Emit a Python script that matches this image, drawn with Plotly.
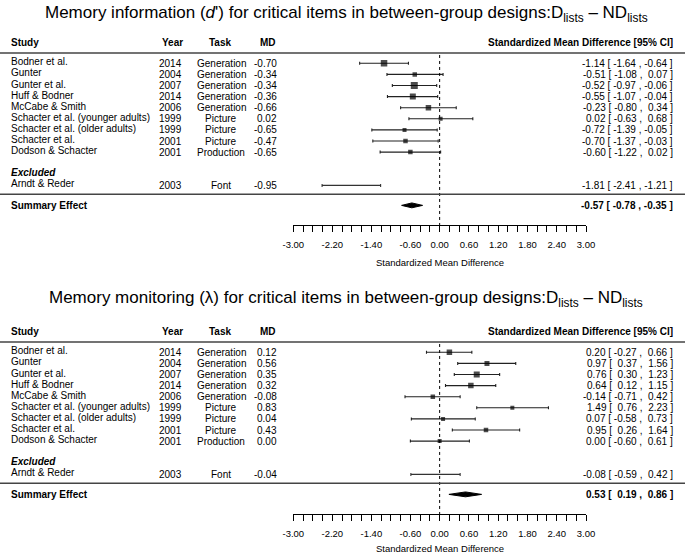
import plotly.graph_objects as go

W, H = 685, 556

# ---------------- data ----------------
studies = ["Bodner et al.", "Gunter", "Gunter et al.", "Huff & Bodner", "McCabe & Smith",
           "Schacter et al. (younger adults)", "Schacter et al. (older adults)",
           "Schacter et al.", "Dodson & Schacter"]
years = ["2014", "2004", "2007", "2014", "2006", "1999", "1999", "2001", "2001"]
tasks = ["Generation", "Generation", "Generation", "Generation", "Generation",
         "Picture", "Picture", "Picture", "Production"]
excl_study = "Arndt & Reder"
excl_year = "2003"
excl_task = "Font"

# Panel 1: memory information (d')
info_md = [-0.70, -0.34, -0.34, -0.36, -0.66, 0.02, -0.65, -0.47, -0.65]
info_smd = [-1.14, -0.51, -0.52, -0.55, -0.23, 0.02, -0.72, -0.70, -0.60]
info_lo = [-1.64, -1.08, -0.97, -1.07, -0.80, -0.63, -1.39, -1.37, -1.22]
info_hi = [-0.64, 0.07, -0.06, -0.04, 0.34, 0.68, -0.05, -0.03, 0.02]
info_excl_md, info_excl_smd, info_excl_lo, info_excl_hi = -0.95, -1.81, -2.41, -1.21
info_sum_est, info_sum_lo, info_sum_hi = -0.57, -0.78, -0.35

# Panel 2: memory monitoring (lambda)
mon_md = [0.12, 0.56, 0.35, 0.32, -0.08, 0.83, 0.04, 0.43, 0.00]
mon_smd = [0.20, 0.97, 0.76, 0.64, -0.14, 1.49, 0.07, 0.95, 0.00]
mon_lo = [-0.27, 0.37, 0.30, 0.12, -0.71, 0.76, -0.58, 0.26, -0.60]
mon_hi = [0.66, 1.56, 1.23, 1.15, 0.42, 2.23, 0.73, 1.64, 0.61]
mon_excl_md, mon_excl_smd, mon_excl_lo, mon_excl_hi = -0.04, -0.08, -0.59, 0.42
mon_sum_est, mon_sum_lo, mon_sum_hi = 0.53, 0.19, 0.86

tick_labels = ["-3.00", "-2.20", "-1.40", "-0.60", "0.00", "0.60", "1.20", "1.80", "2.40", "3.00"]
label_vals = [-3.0, -2.2, -1.4, -0.6, 0.0, 0.6, 1.2, 1.8, 2.4, 3.0]

# ---------------- styles ----------------
info_marker_px = [6.5, 4.5, 7.0, 6.0, 5.5, 4.0, 4.0, 4.5, 4.5]
mon_marker_px = [5.5, 5.0, 6.0, 5.5, 4.5, 4.0, 4.0, 4.5, 4.0]
FONT = "Liberation Sans, Arial, Helvetica, sans-serif"
BODY = 10
ROW_PX = 11.1

titles = [
    "Memory information (<i>d</i>') for critical items in between-group designs:D<sub>lists</sub> \u2013 ND<sub>lists</sub>",
    "Memory monitoring (\u03bb) for critical items in between-group designs:D<sub>lists</sub> \u2013 ND<sub>lists</sub>",
]

panels = [
    dict(md=info_md, smd=info_smd, lo=info_lo, hi=info_hi,
         emd=info_excl_md, esmd=info_excl_smd, elo=info_excl_lo, ehi=info_excl_hi,
         s=(info_sum_est, info_sum_lo, info_sum_hi), mpx=info_marker_px,
         top=52.2, title_y=14, title_x=43, axtitle_y=263),
    dict(md=mon_md, smd=mon_smd, lo=mon_lo, hi=mon_hi,
         emd=mon_excl_md, esmd=mon_excl_smd, elo=mon_excl_lo, ehi=mon_excl_hi,
         s=(mon_sum_est, mon_sum_lo, mon_sum_hi), mpx=mon_marker_px,
         top=341.2, title_y=299, title_x=47, axtitle_y=548),
]

X_LEFT_PX, X_RIGHT_PX = 293.3, 586.0
N_ROWS_RANGE = 15.57  # rows from header line to axis line
ROWS_ABOVE = 2.0      # extra rows above the header line (for header text)


def fx(px):
    return px / W


def fy(py):
    return 1 - py / H


def fmt_ci(e, l, h):
    return f"{e:.2f} [{l:6.2f} , {h:5.2f} ]"


fig = go.Figure()
annotations = []
shapes = []

tickvals = [round(-3 + 0.2 * i, 2) for i in range(31)]
ticktext = []
for v in tickvals:
    hit = [t for lv, t in zip(label_vals, tick_labels) if abs(lv - v) < 1e-9]
    ticktext.append(hit[0] if hit else "")

for k, p in enumerate(panels):
    xa = "x" if k == 0 else "x2"
    ya = "y" if k == 0 else "y2"
    top = p["top"]
    bottom = top + N_ROWS_RANGE * ROW_PX
    dom_top = top - ROWS_ABOVE * ROW_PX
    n = len(studies)
    rows = [i + 1 for i in range(n)]
    excl_label_row = n + 2
    excl_row = n + 3
    sep_row = n + 3.8
    sum_row = n + 4.8

    axis_cfg = dict(domain=[fx(X_LEFT_PX), fx(X_RIGHT_PX)], range=[-3, 3],
                    showline=True, linecolor="black", linewidth=1,
                    ticks="outside", ticklen=6, tickwidth=1, tickcolor="black",
                    tickvals=tickvals, ticktext=ticktext, ticklabelstandoff=5,
                    tickfont=dict(family=FONT, size=9.5, color="black"),
                    showgrid=False, zeroline=False, fixedrange=True, anchor=ya,
                    automargin=False)
    yaxis_cfg = dict(domain=[fy(bottom), fy(dom_top)], range=[N_ROWS_RANGE, -ROWS_ABOVE],
                     visible=False, fixedrange=True, anchor=xa, automargin=False)
    if k == 0:
        fig.update_layout(xaxis=axis_cfg, yaxis=yaxis_cfg)
    else:
        fig.update_layout(xaxis2=axis_cfg, yaxis2=yaxis_cfg)

    # study CIs and squares
    fig.add_trace(go.Scatter(
        x=p["smd"], y=rows, mode="markers", xaxis=xa, yaxis=ya,
        marker=dict(symbol="square", size=p["mpx"], color="black", line=dict(width=0)),
        error_x=dict(type="data", symmetric=False,
                     array=[h - e for h, e in zip(p["hi"], p["smd"])],
                     arrayminus=[e - l for e, l in zip(p["smd"], p["lo"])],
                     color="#222", thickness=1.1, width=1.5),
        showlegend=False, hoverinfo="skip"))
    # excluded study (no square)
    fig.add_trace(go.Scatter(
        x=[p["esmd"]], y=[excl_row], mode="markers", xaxis=xa, yaxis=ya,
        marker=dict(symbol="square", size=1, color="rgba(0,0,0,0)", line=dict(width=0)),
        error_x=dict(type="data", symmetric=False,
                     array=[p["ehi"] - p["esmd"]], arrayminus=[p["esmd"] - p["elo"]],
                     color="#333", thickness=1.1, width=1.5),
        showlegend=False, hoverinfo="skip"))
    # summary diamond
    e, l, h = p["s"]
    dh = 0.22
    fig.add_trace(go.Scatter(
        x=[l, e, h, e, l], y=[sum_row, sum_row - dh, sum_row, sum_row + dh, sum_row],
        mode="lines", fill="toself", fillcolor="black", line=dict(color="black", width=1),
        xaxis=xa, yaxis=ya, showlegend=False, hoverinfo="skip"))

    # zero dotted line
    shapes.append(dict(type="line", xref=xa, yref=ya, x0=0, x1=0, y0=0.25, y1=N_ROWS_RANGE,
                       line=dict(color="black", width=1, dash="dot")))
    # header line and separator
    for yy in (0.08, sep_row):
        shapes.append(dict(type="line", xref="paper", yref=ya, x0=0, x1=1, y0=yy, y1=yy,
                           line=dict(color="#444", width=1.5)))

    def txt(x_px, row, text, anchor, bold=False, italic=False, size=BODY, yshift=0):
        t = text
        if bold:
            t = f"<b>{t}</b>"
        if italic:
            t = f"<i>{t}</i>"
        annotations.append(dict(x=fx(x_px), xref="paper", y=row, yref=ya, text=t,
                                xanchor=anchor, yanchor="middle", showarrow=False,
                                yshift=yshift,
                                font=dict(family=FONT, size=size, color="black")))

    hdr = -0.86
    txt(9, hdr, "Study", "left", bold=True)
    txt(172, hdr, "Year", "center", bold=True)
    txt(220, hdr, "Task", "center", bold=True)
    txt(258, hdr, "MD", "left", bold=True)
    txt(675, hdr, "Standardized Mean Difference [95% CI]", "right", bold=True)

    for i in range(n):
        r = rows[i]
        txt(9, r, studies[i], "left", yshift=1.5)
        txt(170, r, years[i], "center")
        txt(221, r, tasks[i], "center")
        txt(279, r, f"{p['md'][i]:.2f}", "right")
        txt(675, r, fmt_ci(p["smd"][i], p["lo"][i], p["hi"][i]), "right")

    txt(9, excl_label_row, "Excluded", "left", bold=True, italic=True, yshift=1.5)
    txt(9, excl_row, excl_study, "left", yshift=1.5)
    txt(170, excl_row, excl_year, "center")
    txt(221, excl_row, excl_task, "center")
    txt(279, excl_row, f"{p['emd']:.2f}", "right")
    txt(675, excl_row, fmt_ci(p["esmd"], p["elo"], p["ehi"]), "right")

    txt(9, sum_row, "Summary Effect", "left", bold=True)
    txt(675, sum_row, "<b>" + fmt_ci(e, l, h) + "</b>", "right")

    # axis title
    annotations.append(dict(x=fx((X_LEFT_PX + X_RIGHT_PX) / 2), xref="paper",
                            y=fy(p["axtitle_y"]), yref="paper", text="Standardized Mean Difference",
                            xanchor="center", yanchor="middle", showarrow=False,
                            font=dict(family=FONT, size=9.5, color="black")))
    # panel title
    annotations.append(dict(x=fx(p["title_x"]), xref="paper", y=fy(p["title_y"]), yref="paper",
                            text=titles[k], xanchor="left", yanchor="middle", showarrow=False,
                            font=dict(family=FONT, size=17, color="black")))

fig.update_layout(width=W, height=H,
                  margin=dict(l=0, r=0, t=0, b=0, pad=0, autoexpand=False),
                  paper_bgcolor="white", plot_bgcolor="white",
                  annotations=annotations, shapes=shapes, showlegend=False)

fig.write_html("out.html", config={"displayModeBar": False, "staticPlot": True},
               post_script="document.body.style.margin='0px';document.body.style.overflow='hidden';")
